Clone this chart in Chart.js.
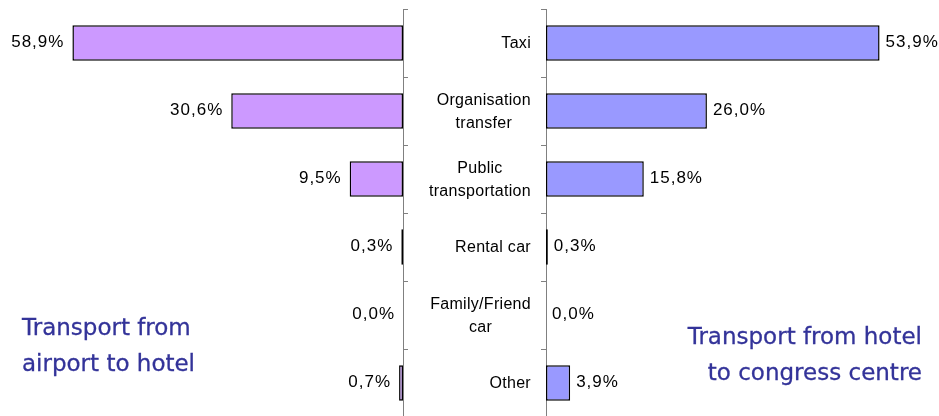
<!DOCTYPE html>
<html>
<head>
<meta charset="utf-8">
<script src="https://cdn.jsdelivr.net/npm/chart.js@4"></script>
<style>
  html, body { margin: 0; padding: 0; background: #fff; }
  body { width: 939px; height: 416px; overflow: hidden; position: relative; }
  .box { position: absolute; top: 0; height: 430px; }
  #leftBox { left: 0; width: 409px; }
  #rightBox { left: 403px; width: 536px; }
  .title {
    position: absolute; font-family: "DejaVu Sans", sans-serif; font-size: 23px;
    line-height: 36px; color: #333399; white-space: nowrap;
    -webkit-text-stroke: 0.3px #333399;
  }
  #leftTitle { left: 22px; top: 309px; }
  #rightTitle { right: 17px; top: 318px; text-align: right; }
</style>
</head>
<body>
<div class="box" id="leftBox"><canvas id="leftChart"></canvas></div>
<div class="box" id="rightBox"><canvas id="rightChart"></canvas></div>
<div class="title" id="leftTitle">Transport from<br>airport to hotel</div>
<div class="title" id="rightTitle">Transport from hotel<br>to congress centre</div>
<script>
const categories = [
  'Taxi',
  ['Organisation', 'transfer'],
  ['Public', 'transportation'],
  'Rental car',
  ['Family/Friend', 'car'],
  'Other'
];
const airportToHotel = [58.9, 30.6, 9.5, 0.3, 0.0, 0.7];
const hotelToCongress = [53.9, 26.0, 15.8, 0.3, 0.0, 3.9];

const axisGrey = '#808080';

function fmt(v) {
  return v.toFixed(1).replace('.', ',') + '%';
}

// value labels next to the bar ends
const valueLabels = {
  id: 'valueLabels',
  afterDatasetsDraw(chart, args, opts) {
    const ctx = chart.ctx;
    const meta = chart.getDatasetMeta(0);
    const data = chart.data.datasets[0].data;
    ctx.save();
    ctx.font = '17px "Liberation Sans", Arial, sans-serif';
    ctx.letterSpacing = '1px';
    ctx.fillStyle = '#000';
    ctx.textBaseline = 'middle';
    meta.data.forEach((bar, i) => {
      if (opts.side === 'left') {
        ctx.textAlign = 'right';
        ctx.fillText(fmt(data[i]), bar.x - 8, bar.y - 1);
      } else {
        ctx.textAlign = 'left';
        ctx.fillText(fmt(data[i]), bar.x + 6, bar.y - 1);
      }
    });
    ctx.restore();
  }
};

// category names in the middle: block right-aligned, lines centred
const middleLabels = {
  id: 'middleLabels',
  afterDraw(chart) {
    const ctx = chart.ctx;
    const yScale = chart.scales.y;
    const rightEdge = yScale.right - 15;
    const lineH = 23;
    ctx.save();
    ctx.font = '16px "Liberation Sans", Arial, sans-serif';
    ctx.letterSpacing = '0.3px';
    ctx.fillStyle = '#000';
    ctx.textBaseline = 'middle';
    ctx.textAlign = 'center';
    chart.data.labels.forEach((lab, i) => {
      const lines = Array.isArray(lab) ? lab : [lab];
      const widest = Math.max(...lines.map(l => ctx.measureText(l).width));
      const cx = rightEdge - widest / 2;
      const cy = yScale.getPixelForValue(i);
      const top = cy - (lines.length - 1) * lineH / 2;
      lines.forEach((l, k) => ctx.fillText(l, cx, top + k * lineH + 1));
    });
    ctx.restore();
  }
};

function makeChart(id, values, color, side) {
  return new Chart(document.getElementById(id), {
    type: 'bar',
    data: {
      labels: categories,
      datasets: [{
        data: values,
        backgroundColor: color,
        borderColor: '#000',
        borderWidth: 1.5,
        borderSkipped: false,
        barPercentage: 0.52,
        categoryPercentage: 1
      }]
    },
    options: {
      indexAxis: 'y',
      responsive: true,
      maintainAspectRatio: false,
      animation: false,
      devicePixelRatio: 1,
      layout: { padding: { top: 9, bottom: 13, left: 0, right: 0 } },
      plugins: {
        legend: { display: false },
        tooltip: { enabled: false },
        valueLabels: { side: side }
      },
      scales: {
        x: {
          display: false,
          reverse: side === 'left',
          min: 0,
          max: side === 'left' ? 71.8 : 63.5
        },
        y: {
          position: side === 'left' ? 'right' : 'left',
          ticks: { display: false },
          grid: {
            offset: true,
            drawOnChartArea: false,
            drawTicks: true,
            tickLength: 5,
            color: axisGrey
          },
          border: { display: true, color: axisGrey, width: 1 },
          afterFit(scale) {
            scale.width = side === 'left' ? 6 : 143;
          }
        }
      }
    },
    plugins: side === 'left' ? [valueLabels] : [valueLabels, middleLabels]
  });
}

makeChart('leftChart', airportToHotel, '#CC99FF', 'left');
makeChart('rightChart', hotelToCongress, '#9999FF', 'right');
</script>
</body>
</html>
